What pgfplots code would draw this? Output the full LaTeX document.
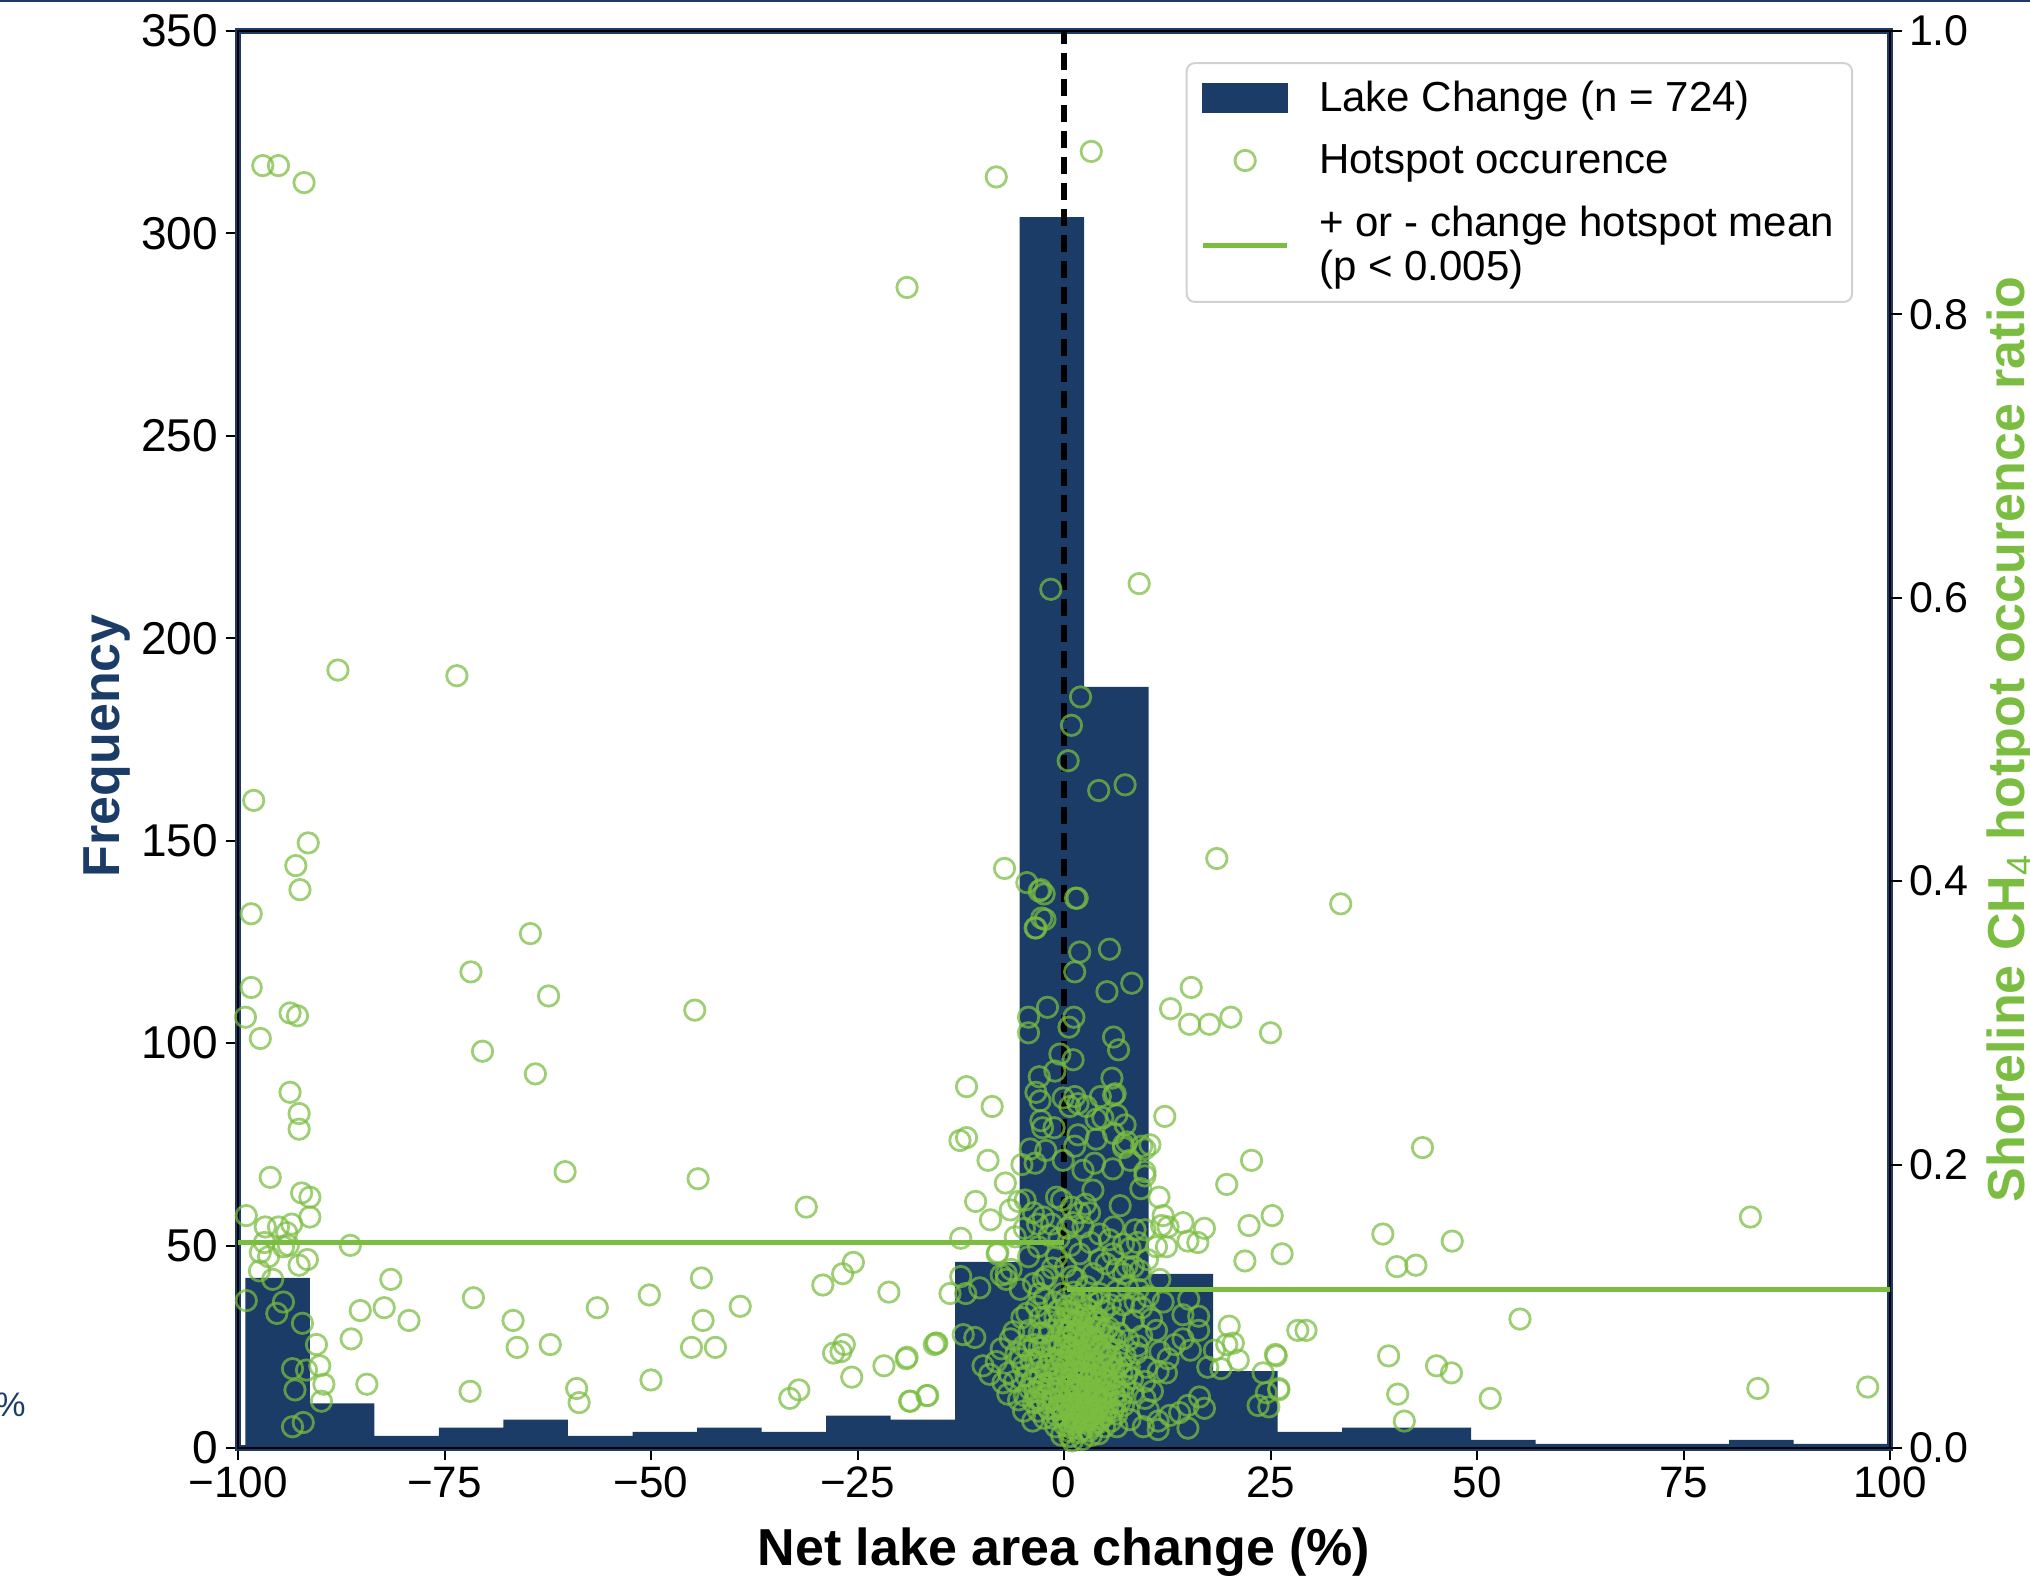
\documentclass[border=0pt]{standalone}
\usepackage{pgfplots}
\pgfplotsset{compat=1.18}
\usepackage{fontspec}
\setmainfont{Liberation Sans}
\definecolor{navy}{RGB}{26,60,102}
\definecolor{lgreen}{RGB}{122,189,64}
\pgfplotstableread{
edge freq
-99.1 42
-91.29 11
-83.48 3
-75.67 5
-67.86 7
-60.05 3
-52.24 4
-44.43 5
-36.62 4
-28.81 8
-21.00 7
-13.19 46
-5.38 304
2.43 188
10.24 43
18.05 19
25.86 4
33.67 5
41.48 5
49.29 2
57.10 1
64.91 1
72.72 1
80.53 2
88.34 1
96.15 1
103.96 1
}\hist
\begin{document}
\begin{tikzpicture}
\path[use as bounding box] (0,0) rectangle (1015pt,788.5pt);
\fill[navy] (0,787.5pt) rectangle (1015pt,788.5pt);
\node[anchor=east,text=navy,font=\fontsize{17}{19}\selectfont,inner sep=0pt] at (13pt,86pt) {\%};
\begin{axis}[
  name=main, scale only axis, width=826pt, height=708.5pt,
  at={(119pt,64.5pt)}, anchor=south west,
  xmin=-100, xmax=100, ymin=0, ymax=350,
  axis line style={navy,line width=3pt},
  xtick={-100,-75,-50,-25,0,25,50,75,100},
  xticklabels={−100,−75,−50,−25,0,25,50,75,100},
  ytick={0,50,100,150,200,250,300,350},
  xtick pos=bottom, ytick pos=left, tick align=outside,
  major tick length=6pt,
  tick style={black,line width=1pt},
  xticklabel style={font=\fontsize{22}{24}\selectfont},
  yticklabel style={font=\fontsize{23}{24}\selectfont,xshift=-0.5pt},
  /pgf/number format/assume math mode=true,
  xlabel={\bfseries Net lake area change (\%)},
  ylabel={\bfseries Frequency},
  xlabel style={font=\fontsize{26}{30}\selectfont,at={(axis description cs:0.5,-0.0735)},anchor=center},
  ylabel style={font=\fontsize{26}{30}\selectfont,text=navy,at={(axis description cs:-0.0795,0.4955)},anchor=center,rotate=0},
]
\addplot[ybar interval=1,fill=navy,draw=none] table[x=edge,y=freq] {\hist};
\end{axis}
\begin{axis}[
  scale only axis, width=826pt, height=708.5pt,
  at={(119pt,64.5pt)}, anchor=south west,
  xmin=-100, xmax=100, ymin=0, ymax=1,
  axis line style={black,line width=1.3pt},
  xtick=\empty,
  ytick={0,0.2,0.4,0.6,0.8,1},
  ytick pos=right, tick align=outside,
  major tick length=6pt,
  tick style={black,line width=1pt},
  tick label style={font=\fontsize{21.5}{24}\selectfont},
  /pgf/number format/assume math mode=true,
  /pgf/number format/fixed, /pgf/number format/fixed zerofill, /pgf/number format/precision=1,
  ylabel={\bfseries Shoreline CH\textsubscript{\mdseries 4} hotpot occurence ratio},
  ylabel style={font=\fontsize{26}{30}\selectfont,text=lgreen,at={(axis description cs:1.0735,0.5)},anchor=center,rotate=0},
  legend cell align=left,
  legend style={at={(axis description cs:0.9776,0.978)},anchor=north east,draw=black!18,line width=1pt,rounded corners=4pt,fill=white,
    font=\fontsize{21}{22}\selectfont,cells={anchor=west,align=left},row sep=11pt,inner xsep=7pt,inner ysep=7pt},
]
\addlegendimage{legend image code/.code={\fill[navy,sharp corners] (0pt,-7pt) rectangle (42pt,7pt);\path[draw=none,fill=none,sharp corners] (0pt,0pt) rectangle (56pt,0pt);}}
\addlegendentry{Lake Change (n = 724)}
\addplot[only marks,mark=o,mark size=5.1pt,mark options={draw=lgreen,draw opacity=0.72,line width=1.4pt,fill opacity=0},
  legend image code/.code={\draw[lgreen,opacity=0.72,line width=1.4pt] (21pt,0pt) circle (5.1pt);\path[draw=none,fill=none,sharp corners] (0pt,0pt) rectangle (56pt,0pt);}] coordinates {
(-97.0,.905)(-95.1,.905)(-92.0,.893)(-8.2,.897)(3.3,.915)(-19.0,.819)(-1.6,.606)(9.1,.610)(-87.9,.549)(-73.5,.545)
(2.0,.530)(.9,.510)(.5,.485)(4.2,.464)(7.4,.468)(-98.1,.457)(-91.5,.427)(-93.0,.411)(-92.5,.394)(-98.4,.377)
(-7.2,.409)(18.5,.416)(33.5,.384)(-4.5,.399)(-3.0,.393)(-2.4,.391)(1.4,.388)(-2.7,.374)(-3.4,.367)(1.9,.350)
(5.5,.352)(1.3,.336)(5.2,.322)(8.2,.328)(-71.8,.336)(-64.6,.363)(-62.4,.319)(-44.7,.309)(-70.4,.280)(-64,.264)
(-98.4,.325)(-99.1,.304)(-97.3,.289)(-93.7,.307)(-92.8,.305)
(-93.7,.251)(-92.6,.236)(-92.6,.225)(-96.1,.191)(-92.3,.180)(-91.3,.177)(-91.3,.163)(-99,.164)(-96.7,.156)(-95.1,.156)
(-93.5,.158)(-94.1,.152)(-96.8,.145)(-93.9,.143)(-94.5,.142)(-97.3,.138)(-96.3,.135)(-92.6,.129)(-91.6,.133)(-97.4,.125)
(-95.8,.119)(-99,.104)(-94.5,.103)(-95.3,.095)(-92.2,.088)(-90.5,.073)(-90.1,.058)(-93.4,.056)(-91.7,.055)(-89.6,.045)
(-93.1,.041)(-89.9,.033)(-92.1,.018)(-93.4,.015)(-86.4,.143)(-81.5,.119)(-85.2,.097)(-82.3,.099)(-79.3,.090)(-86.3,.077)
(-84.4,.045)(-60.4,.195)(-44.3,.190)(-71.5,.106)(-66.7,.090)(-66.2,.071)(-62.2,.073)(-56.5,.099)(-50.2,.108)(-43.9,.120)
(-43.7,.090)(-45.1,.071)(-42.2,.071)(-71.9,.040)(-59,.042)(-58.7,.032)(-50,.048)
(-39.2,.100)(-31.2,.170)(-29.2,.115)(-26.8,.123)(-25.5,.131)(-21.2,.110)(-26.6,.073)(-27.9,.067)(-27,.068)(-25.7,.050)
(-33.2,.035)(-32.1,.041)(-21.8,.058)(-19.1,.063)(-18.7,.033)(-16.6,.037)(-15.7,.073)(-15.4,.074)
(-2.8,.394)(-2.3,.373)(-3.5,.367)(1.6,.388)(15.4,.325)(12.9,.310)(15.2,.299)(17.6,.299)(20.2,.304)(25,.293)
(-2,.311)(-4.3,.304)(-4.3,.293)(1.2,.304)(.6,.297)(6,.290)(6.6,.281)(-.5,.278)(1.1,.274)(-1.1,.266)
(-3,.262)(5.8,.261)(-3.4,.251)(-2.9,.245)(-.1,.247)(1.3,.248)(1.7,.243)(.7,.241)(4.4,.248)(6.2,.250)
(6,.249)(2.7,.241)(3.9,.232)(4.7,.233)(6.4,.235)(7.4,.228)(12.2,.234)(-11.8,.255)(-8.7,.241)(-11.8,.219)
(-12.6,.217)(-2.8,.231)(-2.6,.226)(-1.2,.226)(1.7,.221)(3.9,.218)(6,.222)(7.6,.216)(7.2,.214)(9.4,.213)
(10.4,.214)(-4.1,.211)(-2.2,.210)(1.3,.213)(9.8,.211)
(-3.5,.201)(-5.1,.200)(-9.2,.203)(-7.1,.187)(-10.7,.174)(-8.9,.161)(-6.5,.168)(-5.5,.174)(-4.7,.175)(-3.7,.166)
(-2.5,.163)(-.9,.177)(-.3,.175)(3.5,.182)(6.8,.171)(9.8,.192)(9.8,.195)(9.3,.183)(5.9,.197)(2.3,.196)
(-.1,.203)(3.7,.201)(8,.203)(7.2,.212)(11.5,.177)(12,.164)(11.8,.157)(12.6,.156)(14.4,.159)(17,.155)
(15,.146)(16.2,.145)(12.4,.142)(11.2,.142)(22.4,.157)(25.2,.164)(19.7,.186)(22.7,.203)(21.9,.132)(26.4,.137)
(28.3,.083)(-12.5,.148)(-5.9,.149)(-8,.138)(-8.1,.137)(-4.3,.135)(-12.5,.121)(-10.2,.113)(-13.8,.109)(-11.9,.109)
(-7.6,.122)(-7,.123)(-6.4,.126)(-7,.119)(-12.2,.080)(-10.8,.078)(-15.5,.074)(-19,.064)(-18.6,.033)(-16.5,.037)
(-9.8,.058)(-9,.052)(-8.2,.061)(-6.5,.077)(-5.1,.092)(-6,.047)(-5.5,.034)(-3.7,.032)(-5.8,.067)(-3.7,.116)
(-2.5,.119)(-2.9,.092)(-.9,.027)(11.6,.119)(12,.103)(8.6,.103)(9.4,.099)(15.1,.105)(14.4,.094)(16.3,.093)
(11.2,.083)(16.3,.083)(13.4,.073)(14.4,.077)(15.3,.069)(9.4,.079)(8.4,.090)(20,.086)(20.5,.074)(19.7,.073)
(18.2,.069)(21.1,.062)(25.6,.066)(17.4,.057)(19,.056)(24.1,.053)(24.5,.039)(26,.042)(23.5,.030)(24.8,.029)
(12.4,.053)(11.4,.054)(12.6,.063)(10,.057)(9.8,.047)(8.8,.067)(16.4,.036)(17,.028)(15,.030)(14,.025)
(12.8,.023)(11.4,.019)(11.4,.013)(15,.014)(9.6,.015)(9.8,.035)(8.4,.039)(8,.020)(6.4,.015)(3.3,.009)(.7,.008)
(43.4,.212)(38.6,.151)(47,.146)(40.3,.128)(42.6,.129)(39.3,.065)(40.4,.038)(41.2,.019)(45.1,.058)(46.9,.053)
(51.6,.035)(55.2,.091)(83.1,.163)(84,.042)(97.3,.043)(29.3,.083)(25.7,.065)(26,.041)
(1.9,.166)(1.1,.159)(3.1,.166)(2.3,.156)(4.3,.151)(6,.156)(5.5,.147)(7.2,.144)(8,.141)(9.8,.154)
(8.6,.154)(5.9,.137)(4.3,.133)(5.1,.130)(6.4,.126)(7.6,.128)(8.4,.128)(7.2,.123)(1.9,.137)(-.9,.135)
(-2.1,.121)(1.5,.119)(3.5,.123)(2.7,.114)(4.3,.109)(6.4,.111)(.4,.155)(-.6,.148)(-1.8,.150)(.8,.143)
(3.2,.145)(.2,.128)(1,.121)(-1.4,.127)(-3.1,.142)(-4.8,.155)(-3.2,.158)(-1.5,.158)(.9,.170)(2.6,.172)
(-.2,.109)(1.4,.102)(2.9,.098)(.5,.096)(-1.2,.103)(-2.4,.106)(-3.3,.100)(4.8,.097)(6.1,.092)(7.2,.101)
(5.4,.085)(6.7,.081)(7.8,.076)(8.9,.072)(3.8,.089)(2.2,.087)(.9,.085)(-.6,.088)(-1.7,.083)(-3,.081)
(-4.2,.083)(-3.6,.073)(-2.3,.072)(-1,.076)(.2,.078)(1.3,.074)(2.7,.079)(4,.075)(5.2,.072)(6.4,.069)
(7.4,.065)(7.9,.057)(8.3,.049)(7,.053)(5.8,.061)(4.6,.064)(3.3,.066)(2,.067)(.8,.065)(-.4,.066)
(-1.6,.063)(-2.8,.064)(-4,.062)(-5,.058)(-4.6,.051)(-3.4,.053)(-2.2,.055)(-1,.056)(.2,.057)(1.4,.058)
(2.6,.056)(3.8,.055)(5,.053)(6.2,.050)(7.3,.044)(6.6,.040)(5.4,.044)(4.2,.046)(3,.048)(1.8,.049)
(.6,.048)(-.6,.047)(-1.8,.046)(-3,.043)(-4.2,.042)(-4.8,.037)(-3.4,.035)(-2.2,.037)(-1,.039)(.2,.040)
(1.4,.041)(2.6,.039)(3.8,.037)(5,.035)(6.2,.032)(7.2,.030)(6.4,.024)(5.2,.027)(4,.029)(2.8,.031)
(1.6,.032)(.4,.031)(-.6,.030)(-1.9,.028)(-3.1,.026)(-2.4,.021)(-1.3,.021)(-.2,.023)(.9,.024)(2.1,.025)
(3.3,.023)(4.5,.021)(5.7,.019)(4.9,.015)(3.7,.017)(2.5,.018)(1.3,.017)(.1,.016)(-1,.015)(.6,.012)
(1.8,.011)(3,.012)(4.2,.010)(2.2,.006)(1,.005)(-.3,.009)(.5,.072)(1.7,.071)(3,.072)(.9,.053)
(2.1,.053)(3.3,.051)(4.5,.050)(1,.045)(2.2,.044)(3.4,.043)(4.6,.041)(.9,.036)(2.1,.035)(3.3,.034)
(4.5,.033)(1,.028)(2.2,.028)(3.4,.027)(4.6,.026)(1.1,.021)(2.3,.021)(3.5,.020)(1.2,.061)(2.4,.061)
(3.6,.060)(4.8,.058)(6,.056)(1.6,.083)(3.2,.082)(4.7,.080)(6.2,.077)(2.9,.105)(4.2,.103)(5.6,.101)
(-6.7,.053)(-7.4,.046)(-6.8,.038)(-7.6,.070)(-4.9,.026)(-3.8,.019)(-6.1,.082)(-4.5,.095)(-3,.109)(-5.3,.112)
(9,.112)(10.2,.107)(10.6,.091)(11.6,.068)(10.7,.040)(10.2,.027)(7.7,.113)(9.2,.125)(10.1,.133)(8.9,.145)
(.3,.100)(1.1,.095)(1.9,.092)(2.6,.094)(3.4,.093)(4.1,.091)(.1,.090)(.8,.090)(1.5,.090)(2.9,.088)
(3.6,.085)(4.4,.085)(5.1,.083)(-.2,.082)(.5,.082)(1.2,.080)(1.9,.081)(2.5,.077)(3.4,.077)(4.3,.070)
(5.8,.078)(-.5,.073)(.1,.071)(.9,.069)(1.5,.066)(2.5,.070)(3.6,.070)(4.9,.067)(5.6,.065)(6.9,.060)
(-.9,.062)(-.2,.061)(.5,.062)(1.8,.063)(3,.063)(4.1,.059)(5.3,.058)(6.5,.057)(7.6,.052)(-1.3,.052)
(-.5,.052)(.3,.052)(1.5,.054)(2.7,.052)(3.9,.050)(5.1,.048)(6,.045)(7.1,.038)(-1.5,.042)(-.7,.042)
(.4,.043)(1.6,.044)(2.8,.042)(4,.040)(5.2,.039)(6.1,.037)(6.8,.033)(-1.3,.034)(-.4,.035)(.6,.037)
(1.8,.037)(2.8,.036)(3.9,.034)(5.4,.031)(5.9,.026)(-.9,.023)(-.1,.028)(.7,.027)(1.6,.028)(2.7,.027)
(3.9,.026)(5,.023)(.4,.019)(1.6,.020)(2.9,.020)(4.2,.018)(.9,.014)(2.2,.013)(3.4,.015)(-2.9,.050)
(-2.5,.045)(-2,.058)(-3.4,.061)(-3,.071)(-2.6,.081)(-1.5,.072)(-1.1,.092)(-4.3,.069)(-4.9,.072)(-3.9,.047)
(-5.3,.063)(-2.8,.034)(-2,.032)(-3.5,.040)(-1.9,.093)(-.7,.097)(.2,.105)(1.2,.110)(2,.102)(3.4,.106)
}; \addlegendentry{Hotspot occurence}
\addplot[lgreen,line width=2.5pt,legend image code/.code={\draw[lgreen,line width=2.5pt,sharp corners] (0pt,0pt)--(42pt,0pt);\path[draw=none,fill=none,sharp corners] (0pt,0pt) rectangle (56pt,0pt);}] coordinates {(-100,.145)(0,.145)};
\addlegendentry{+ or - change hotspot mean\\(p < 0.005)}
\addplot[lgreen,line width=2.5pt,forget plot] coordinates {(0,.1115)(100,.1115)};
\addplot[black,line width=2.7pt,dash pattern=on 8.5pt off 4.5pt,forget plot] coordinates {(0,0)(0,1)};
\end{axis}
\end{tikzpicture}
\end{document}
